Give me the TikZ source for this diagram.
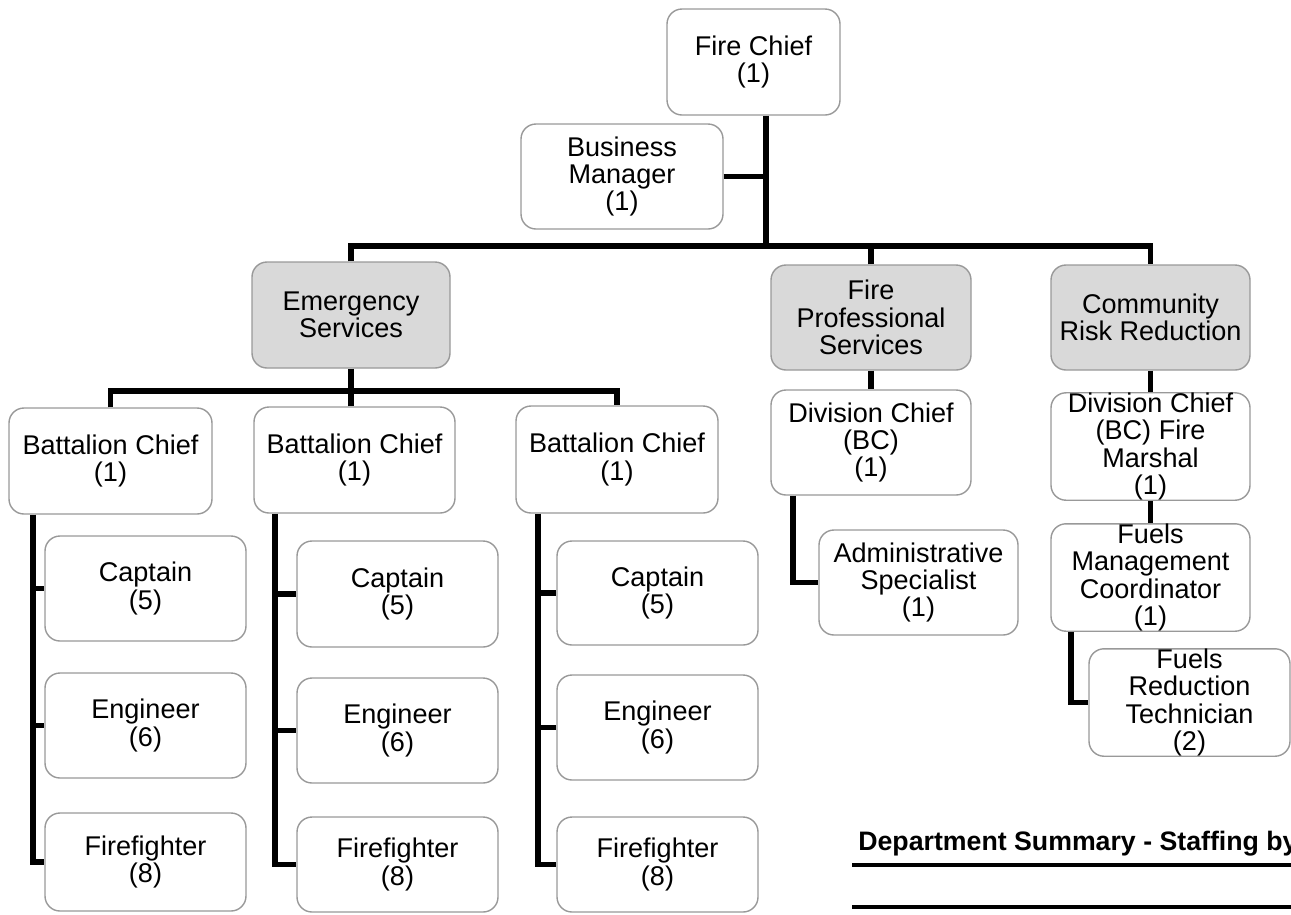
\documentclass[tikz,border=0pt]{standalone}
\usepackage{fontspec}
\setmainfont{Liberation Sans}
\tikzset{
  orgbox/.style={draw=black!40, line width=0.8pt, rounded corners=0.3cm, fill=white, align=center, inner sep=0pt, font=\fontsize{15.4}{15.6}\selectfont},
  grpbox/.style={orgbox, fill=black!15},
  conn/.style={line width=3.2pt},
  rule/.style={line width=2.6pt}
}
\newcommand\ob[7]{\node[#6, minimum width={(#4-#2)*0.02cm}, minimum height={(#5-#3)*0.02cm}] (#1) at ({(#2+#4)/2},{(#3+#5)/2}) {#7};}
\begin{document}
\begin{tikzpicture}[x=0.02cm, y=-0.02cm]
\useasboundingbox (0,0) rectangle (1291,914);
\clip (0,0) rectangle (1291,914);
% boxes
\ob{fc}{667}{9}{840}{115}{orgbox}{Fire Chief\\(1)}
\ob{bm}{521}{124}{723}{229}{orgbox}{Business\\Manager\\(1)}
\ob{es}{252}{262}{450}{368}{grpbox}{Emergency\\Services}
\ob{fp}{771}{265}{971}{370}{grpbox}{Fire\\Professional\\Services}
\ob{cr}{1051}{265}{1250}{370}{grpbox}{Community\\Risk Reduction}
\ob{bc1}{9}{408}{212}{514}{orgbox}{Battalion Chief\\(1)}
\ob{bc2}{254}{407}{455}{513}{orgbox}{Battalion Chief\\(1)}
\ob{bc3}{516}{406}{718}{513}{orgbox}{Battalion Chief\\(1)}
\ob{cp1}{45}{536}{246}{641}{orgbox}{Captain\\(5)}
\ob{en1}{45}{673}{246}{778}{orgbox}{Engineer\\(6)}
\ob{ff1}{45}{813}{246}{911}{orgbox}{Firefighter\\(8)}
\ob{cp2}{297}{541}{498}{647}{orgbox}{Captain\\(5)}
\ob{en2}{297}{678}{498}{783}{orgbox}{Engineer\\(6)}
\ob{ff2}{297}{817}{498}{912}{orgbox}{Firefighter\\(8)}
\ob{cp3}{557}{541}{758}{645}{orgbox}{Captain\\(5)}
\ob{en3}{557}{675}{758}{780}{orgbox}{Engineer\\(6)}
\ob{ff3}{557}{817}{758}{912}{orgbox}{Firefighter\\(8)}
\ob{dc}{771}{390}{971}{495}{orgbox}{Division Chief\\(BC)\\(1)}
\ob{as}{819}{530}{1018}{635}{orgbox}{Administrative\\Specialist\\(1)}
\ob{fm}{1051}{395}{1250}{498}{orgbox}{Division Chief\\(BC) Fire\\Marshal\\(1)}
\ob{fmc}{1051}{525}{1250}{630}{orgbox}{Fuels\\Management\\Coordinator\\(1)}
\ob{frt}{1089}{650}{1290}{755}{orgbox}{Fuels\\Reduction\\Technician\\(2)}
% junction coordinates
\coordinate (t) at (766,246);
\coordinate (e) at (351,391);
\coordinate (k1) at (33,0);
\coordinate (k2) at (275,0);
\coordinate (k3) at (538,0);
\coordinate (k4) at (793,0);
\coordinate (k5) at (1071,0);
% connectors
\draw[conn] (fc.south -| t) -- (t);
\draw[conn] (bm.east) -- (bm.east -| t);
\draw[conn] (es.north) -- (es.north |- t) -- (cr.north |- t) -- (cr.north);
\draw[conn] (fp.north) -- (fp.north |- t);
\draw[conn] (es.south) -- (e);
\draw[conn] (bc1.north) -- (bc1.north |- e) -- (bc3.north |- e) -- (bc3.north);
\draw[conn] (bc2.north -| e) -- (e);
\draw[conn] (bc1.south -| k1) |- (ff1.west);
\draw[conn] (cp1.west -| k1) -- (cp1.west);
\draw[conn] (en1.west -| k1) -- (en1.west);
\draw[conn] (bc2.south -| k2) |- (ff2.west);
\draw[conn] (cp2.west -| k2) -- (cp2.west);
\draw[conn] (en2.west -| k2) -- (en2.west);
\draw[conn] (bc3.south -| k3) |- (ff3.west);
\draw[conn] (cp3.west -| k3) -- (cp3.west);
\draw[conn] (en3.west -| k3) -- (en3.west);
\draw[conn] (fp.south) -- (dc.north);
\draw[conn] (dc.south -| k4) |- (as.west);
\draw[conn] (cr.south) -- (fm.north);
\draw[conn] (fm.south) -- (fmc.north);
\draw[conn] (fmc.south -| k5) |- (frt.west);
% summary heading
\node[anchor=base west, inner sep=0pt, font=\bfseries\fontsize{15.2}{18}\selectfont] (ds) at (858,850) {Department Summary - Staffing by};
\draw[rule] (852,865) -- (1300,865);
\draw[rule] (852,907) -- (1300,907);
\end{tikzpicture}
\end{document}
